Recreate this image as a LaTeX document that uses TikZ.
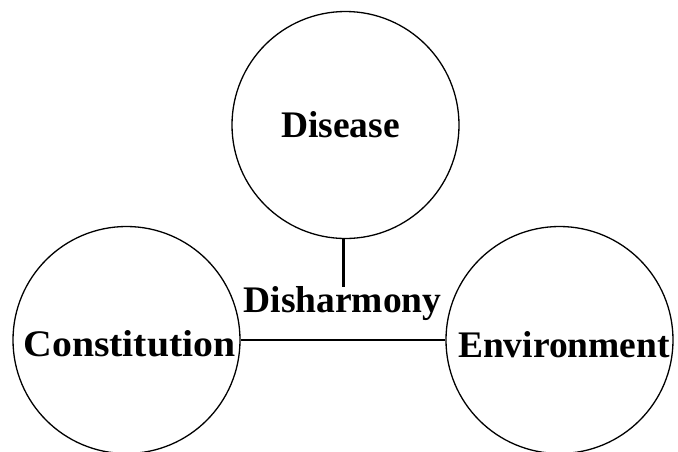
\documentclass[tikz,border=0pt]{standalone}
\usepackage{fontspec}
\setmainfont{Liberation Serif}
\begin{document}
\begin{tikzpicture}[x=1pt,y=-1pt,
  bubble/.style={draw=black,circle,line width=1.3pt,inner sep=0pt,minimum size=227pt},
  lbl/.style={font=\fontsize{37.5}{40}\selectfont\bfseries,anchor=base,inner sep=0pt},
  link/.style={line width=2.6pt}]
\useasboundingbox (0,0) rectangle (678,451);
\node[bubble] (dis) at (345.5,125) {};
\node[bubble] (con) at (126.5,340) {};
\node[bubble] (env) at (559.5,340) {};
\node[lbl] (distxt) at (340.5,137) {Disease};
\node[lbl] (contxt) at (129.5,356) {\scalebox{1.06}[1]{Constitution}};
\node[lbl] (envtxt) at (564,357) {Environment};
\node[lbl] (har) at (342.5,312) {Disharmony};
\coordinate (vend) at (343.5,287);
\draw[link] (con.east) -- (env.west);
\draw[link] (dis.south -| vend) -- (vend);
\end{tikzpicture}
\end{document}
